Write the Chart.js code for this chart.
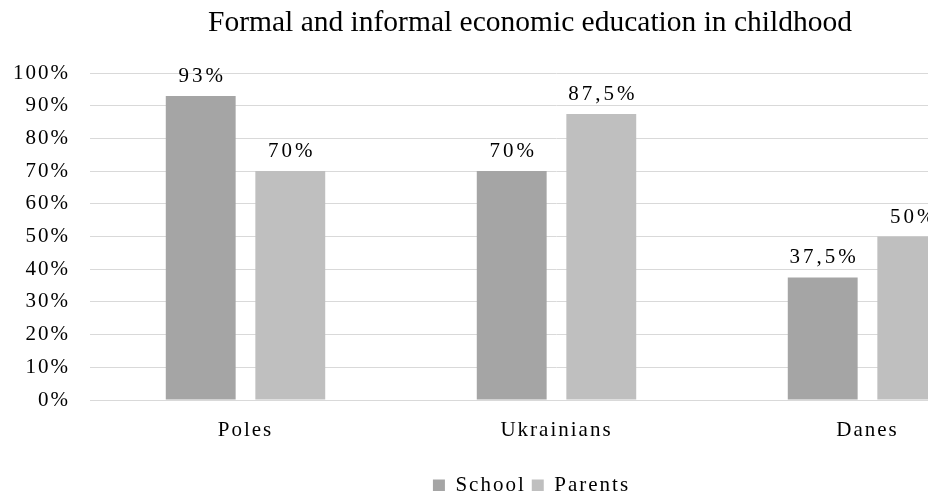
<!DOCTYPE html>
<html lang="en">
<head>
    <meta charset="UTF-8">
    <title>Formal and informal economic education in childhood</title>
    <style>
        body {
            margin: 0;
            background-color: #ffffff;
            overflow: hidden;
        }
        .container {
            width: 1060px;
            height: 506px;
        }
    </style>
</head>
<body>
    <div class="container">
        <canvas id="eduChart" width="1060" height="506"></canvas>
    </div>

    <script src="https://cdn.jsdelivr.net/npm/chart.js"></script>
    <script>
        const groups = ['Poles', 'Ukrainians', 'Danes'];
        const schoolValues = [93, 70, 37.5];
        const parentsValues = [70, 87.5, 50];
        const yTicks = [0, 10, 20, 30, 40, 50, 60, 70, 80, 90, 100];

        const chartTitle = 'Formal and informal economic education in childhood';
        const serif = '"Liberation Serif", "DejaVu Serif", serif';
        const textColor = '#000';

        // percentages are written with a decimal comma
        function pct(v) {
            return String(v).replace('.', ',') + '%';
        }

        // the axis and legend text is slightly spaced out
        const spacedText = {
            id: 'spacedText',
            beforeLayout(chart) {
                chart.ctx.letterSpacing = '2px';
            },
            afterLayout(chart) {
                // nudge the legend a little to the right
                chart.legend.left += 14;
                chart.legend.right += 14;
            },
            beforeDraw(chart) {
                chart.ctx.letterSpacing = '2px';
            }
        };

        // value labels above each bar, plus the title line
        const barLabels = {
            id: 'barLabels',
            afterDatasetsDraw(chart) {
                const ctx = chart.ctx;
                ctx.save();
                ctx.letterSpacing = '3px';
                ctx.font = '21px ' + serif;
                ctx.fillStyle = textColor;
                ctx.textAlign = 'center';
                ctx.textBaseline = 'alphabetic';
                chart.data.datasets.forEach((ds, i) => {
                    chart.getDatasetMeta(i).data.forEach((bar, j) => {
                        ctx.fillText(pct(ds.data[j]), bar.x + 1.5, bar.y - 14);
                    });
                });
                ctx.restore();
            },
            afterDraw(chart) {
                const ctx = chart.ctx;
                ctx.save();
                ctx.letterSpacing = '0px';
                ctx.font = '29.5px ' + serif;
                ctx.fillStyle = textColor;
                ctx.textAlign = 'center';
                ctx.textBaseline = 'middle';
                ctx.fillText(chartTitle, chart.width / 2, 23);
                ctx.restore();
            }
        };

        const ctx = document.getElementById('eduChart').getContext('2d');
        new Chart(ctx, {
            type: 'bar',
            data: {
                labels: groups,
                datasets: [{
                    label: 'School',
                    data: schoolValues,
                    backgroundColor: '#a5a5a5',
                    categoryPercentage: 0.576,
                    barPercentage: 0.78
                }, {
                    label: 'Parents',
                    data: parentsValues,
                    backgroundColor: '#bfbfbf',
                    categoryPercentage: 0.576,
                    barPercentage: 0.78
                }]
            },
            plugins: [spacedText, barLabels],
            options: {
                responsive: false,
                animation: false,
                layout: {
                    padding: { left: 12, right: 37, top: 73, bottom: 0 }
                },
                scales: {
                    y: {
                        min: 0,
                        max: 100,
                        afterBuildTicks(axis) {
                            axis.ticks = yTicks.map(v => ({ value: v }));
                        },
                        afterFit(axis) {
                            axis.width = 78;
                        },
                        ticks: {
                            padding: 20,
                            color: textColor,
                            font: { family: serif, size: 21 },
                            callback: v => v + '%'
                        },
                        grid: {
                            color: '#d9d9d9',
                            drawTicks: false
                        },
                        border: { display: false }
                    },
                    x: {
                        afterFit(axis) {
                            axis.height = 69;
                        },
                        ticks: {
                            padding: 10,
                            color: textColor,
                            font: { family: serif, size: 21 }
                        },
                        grid: { display: false },
                        border: { color: '#d9d9d9' }
                    }
                },
                plugins: {
                    title: { display: false },
                    legend: {
                        position: 'bottom',
                        labels: {
                            boxWidth: 12,
                            boxHeight: 12,
                            padding: 6,
                            color: textColor,
                            font: { family: serif, size: 21 }
                        }
                    },
                    tooltip: { enabled: false }
                }
            }
        });
    </script>
</body>
</html>
